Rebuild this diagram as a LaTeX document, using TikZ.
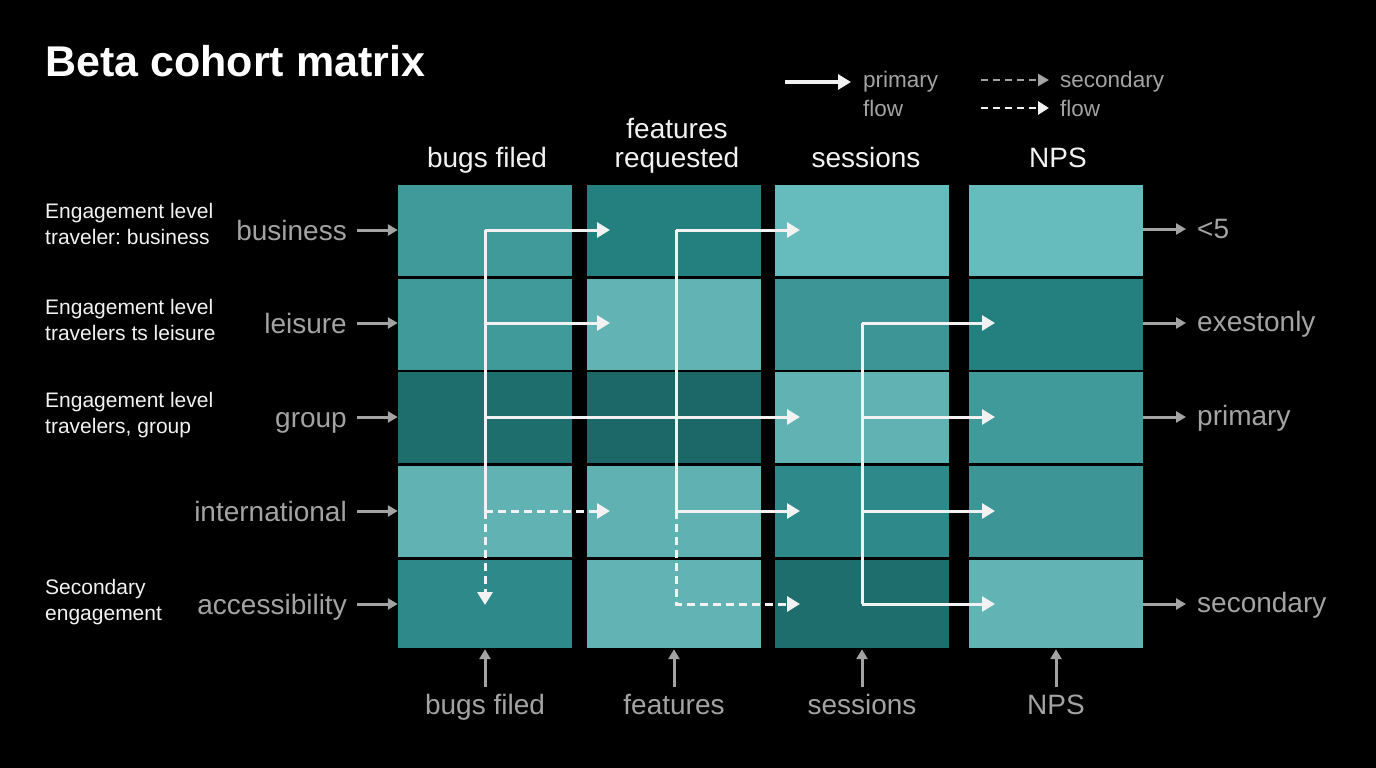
\documentclass[tikz,border=0pt]{standalone}
\usepackage{fontspec}
\setmainfont{Liberation Sans}
\usetikzlibrary{arrows.meta}
\definecolor{tA}{HTML}{66BCBC}
\definecolor{tB}{HTML}{409A9A}
\definecolor{tC}{HTML}{24807F}
\definecolor{tD}{HTML}{2E8A8A}
\definecolor{tE}{HTML}{1E6E6E}
\definecolor{gr}{HTML}{A3A3A3}
\definecolor{wt}{HTML}{F2F2F2}
\begin{document}
\frenchspacing
\begin{tikzpicture}[x=1pt,y=-1pt,
  cell/.style={minimum width=174pt,minimum height=91pt,inner sep=0pt,draw=none},
  flowline/.style={draw=wt,line width=3pt},
  flow/.style={flowline,-{Triangle[length=13pt,width=15pt]}},
  dflowline/.style={flowline,dash pattern=on 8pt off 5pt},
  dflow/.style={dflowline,-{Triangle[length=13pt,width=15pt]}},
  side/.style={draw=gr,line width=3pt,-{Triangle[length=10pt,width=11pt]}},
  big/.style={font=\fontsize{28}{32}\selectfont,inner sep=0pt},
  glab/.style={big,text=gr},
  hlab/.style={big,text=wt,align=center},
  small/.style={font=\fontsize{21}{26.5}\selectfont,text=wt,align=left,inner sep=0pt,anchor=west},
  leg/.style={font=\fontsize{22.5}{28}\selectfont,text=gr,inner sep=0pt,anchor=base west}
]
\fill[black] (0,0) rectangle (1376,768);
\useasboundingbox (0,0) rectangle (1376,768);

% title
\node[font=\fontsize{43}{48}\selectfont\bfseries,text=white,anchor=base west,inner sep=0pt] (title) at (45,77) {Beta cohort matrix};

% legend
\coordinate (lp1) at (785,82); \coordinate (lp2) at (851,82);
\draw[flow] (lp1) -- (lp2);
\node[leg] (lprim) at (863,88) {primary};
\node[leg] (lflow1) at (863,116) {flow};
\coordinate (ls1) at (981,80); \coordinate (ls2) at (1049,80);
\draw[draw=gr,line width=2.5pt,dash pattern=on 7pt off 5pt,-{Triangle[length=11pt,width=12pt]}] (ls1) -- (ls2);
\coordinate (lt1) at (981,108); \coordinate (lt2) at (1049,108);
\draw[draw=wt,line width=2.8pt,dash pattern=on 7pt off 5pt,-{Triangle[length=11pt,width=13pt]}] (lt1) -- (lt2);
\node[leg] (lsec) at (1060,88) {secondary};
\node[leg] (lflow2) at (1060,116) {flow};

% column headers
\node[hlab,anchor=base] (h1) at (487,167) {bugs filed};
\node[hlab,anchor=base] (h2a) at (677,138) {features};
\node[hlab,anchor=base] (h2) at (677,167) {requested};
\node[hlab,anchor=base] (h3) at (866,167) {sessions};
\node[hlab,anchor=base] (h4) at (1058,167) {NPS};

% cells
\node[cell,fill=tB] (c11) at (485,230.5) {};
\node[cell,fill=tB] (c21) at (485,324) {};
\node[cell,fill=tE] (c31) at (485,417.5) {};
\node[cell,fill=tA!95!black] (c41) at (485,511.5) {};
\node[cell,fill=tD,minimum height=88pt] (c51) at (485,604) {};

\node[cell,fill=tC] (c12) at (674,230.5) {};
\node[cell,fill=tA!96!black] (c22) at (674,324) {};
\node[cell,fill=tE!95!black] (c32) at (674,417.5) {};
\node[cell,fill=tA!94!black] (c42) at (674,511.5) {};
\node[cell,fill=tA!96!black,minimum height=88pt] (c52) at (674,604) {};

\node[cell,fill=tA] (c13) at (862,230.5) {};
\node[cell,fill=tB!97!black] (c23) at (862,324) {};
\node[cell,fill=tA!95!black] (c33) at (862,417.5) {};
\node[cell,fill=tD] (c43) at (862,511.5) {};
\node[cell,fill=tE,minimum height=88pt] (c53) at (862,604) {};

\node[cell,fill=tA] (c14) at (1056,230.5) {};
\node[cell,fill=tC] (c24) at (1056,324) {};
\node[cell,fill=tB] (c34) at (1056,417.5) {};
\node[cell,fill=tB!97!black] (c44) at (1056,511.5) {};
\node[cell,fill=tA!96!black,minimum height=88pt] (c54) at (1056,604) {};

% row labels (left)
\node[glab,anchor=base east] (r1) at (347,240) {business};
\node[glab,anchor=base east] (r2) at (347,333) {leisure};
\node[glab,anchor=base east] (r3) at (347,427) {group};
\node[glab,anchor=base east] (r4) at (347,521) {international};
\node[glab,anchor=base east] (r5) at (347,614) {accessibility};
\coordinate (s1) at (357,230); \coordinate (s2) at (357,323);
\coordinate (s3) at (357,417); \coordinate (s4) at (357,511);
\coordinate (s5) at (357,604);
\foreach \i in {1,...,5}{
  \draw[side] (s\i) -- (s\i -| c11.west);
}

% small descriptions
\node[small] (d1) at (45,224) {Engagement level\\traveler: business};
\node[small] (d2) at (45,320) {Engagement level\\travelers ts leisure};
\node[small] (d3) at (45,415) {Engagement level\\travelers, group};
\node[small] (d4) at (45,602) {Secondary\\engagement};

% right labels
\node[glab,anchor=base west] (o1) at (1197,238) {<5};
\node[glab,anchor=base west] (o2) at (1197,331) {exestonly};
\node[glab,anchor=base west] (o3) at (1197,425) {primary};
\node[glab,anchor=base west] (o5) at (1197,612) {secondary};
\coordinate (e1) at (1186,229); \coordinate (e2) at (1186,323);
\coordinate (e3) at (1186,417); \coordinate (e5) at (1186,604);
\foreach \i in {1,2,3,5}{
  \draw[side] (e\i -| c14.east) -- (e\i);
}

% bottom labels
\node[glab,anchor=base] (b1) at (485,714) {bugs filed};
\node[glab,anchor=base] (b2) at (674,714) {features};
\node[glab,anchor=base] (b3) at (862,714) {sessions};
\node[glab,anchor=base] (b4) at (1056,714) {NPS};
\draw[side,shorten <=7pt,shorten >=1pt] (b1.north) -- (c51.south);
\draw[side,shorten <=7pt,shorten >=1pt] (b2.north) -- (c52.south);
\draw[side,shorten <=7pt,shorten >=1pt] (b3.north) -- (c53.south);
\draw[side,shorten <=7pt,shorten >=1pt] (b4.north) -- (c54.south);

% flow coordinates
\coordinate (t1a) at (485,230); \coordinate (t1b) at (485,323);
\coordinate (t1c) at (485,417); \coordinate (t1d) at (485,511);
\coordinate (t1e) at (485,605);
\coordinate (t2a) at (676,230); \coordinate (t2d) at (676,511);
\coordinate (t2e) at (676,604);
\coordinate (t3b) at (862,323); \coordinate (t3c) at (862,417);
\coordinate (t3d) at (862,511); \coordinate (t3e) at (862,604);
\coordinate (a2a) at (610,230); \coordinate (a2b) at (610,323);
\coordinate (a2d) at (610,511);
\coordinate (a3a) at (800,230); \coordinate (a3c) at (800,417);
\coordinate (a3d) at (800,511); \coordinate (a3e) at (800,604);
\coordinate (a4b) at (995,323); \coordinate (a4c) at (995,417);
\coordinate (a4d) at (995,511); \coordinate (a4e) at (995,604);

% trunk 1
\draw[flowline] (t1a) -- (t1d);
\draw[dflow] (t1d) -- (t1e);
\draw[flow] (t1a) -- (a2a);
\draw[flow] (t1b) -- (a2b);
\draw[flow] (t1c) -- (a3c);
\draw[dflow] (t1d) -- (a2d);
% trunk 2
\draw[flowline] (t2a) -- (t2d);
\draw[dflow] (t2d) -- (t2e) -- (a3e);
\draw[flow] (t2a) -- (a3a);
\draw[flow] (t2d) -- (a3d);
% trunk 3
\draw[flowline] (t3b) -- (t3e);
\draw[flow] (t3b) -- (a4b);
\draw[flow] (t3c) -- (a4c);
\draw[flow] (t3d) -- (a4d);
\draw[flow] (t3e) -- (a4e);
\end{tikzpicture}
\end{document}
